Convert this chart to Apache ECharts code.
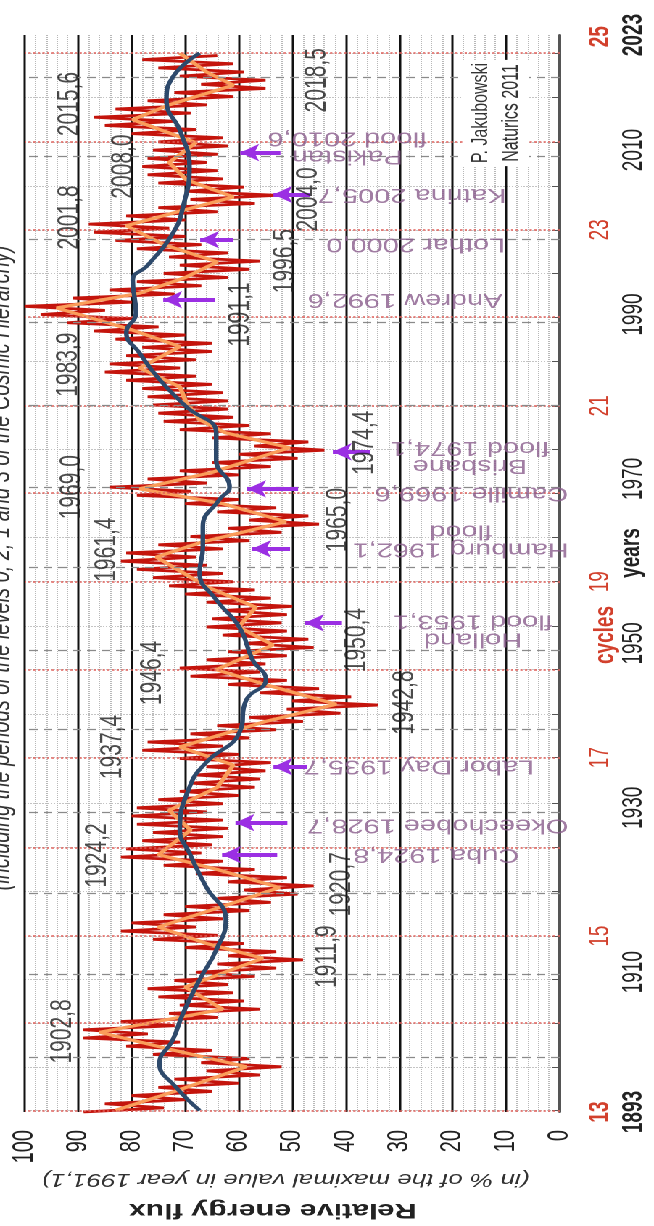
<!DOCTYPE html>
<html>
<head>
<meta charset="utf-8">
<title>Relative energy flux</title>
<script src="https://cdn.jsdelivr.net/npm/echarts@6.0.0/dist/echarts.min.js"></script>
<style>
  html, body { margin: 0; padding: 0; background: #fff; overflow: hidden; }
  /* the picture is stretched sideways, so the chart is drawn narrow and widened */
  #main { width: 451px; height: 1226px; transform: scaleX(1.45); transform-origin: 0 0; }
</style>
</head>
<body>
<div id="main"></div>
<script>
/**———————————————— data read off the picture ————————————————**/
// red curve: left (high) spike per year, right (low) spike half a year later
var redStartYear = 1893;
var redHigh = [89,85,80,75,72,66,67,76,81,89, 89,82,73,71,75,77,72,68,64,62,
               70,76,82,80,74,70,64,59,62,68, 74,82,81,78,76,79,80,79,75,71,
               69,68,66,71,78,77,69,64,58,51, 50,56,62,69,71,66,62,59,63,66,
               65,63,66,70,73,76,79,82,81,75, 69,62,58,64,70,79,84,77,71,65,
               60,57,65,71,74,75,76,77,78,81, 85,84,81,78,83,87,92,97,100,91,
               84,79,74,71,73,79,83,87,88,81, 75,69,70,75,77,78,77,76,75,80,
               85,87,83,77,72,67,71,75,78];
var redLow  = [74,70,65,60,56,52,58,65,71,77, 72,64,56,59,61,62,57,53,48,53,
               59,64,68,63,58,54,49,46,51,57, 63,67,65,63,62,63,66,63,60,57,
               56,55,54,60,63,58,53,48,41,34, 39,45,51,56,55,51,46,47,51,52,
               51,50,54,57,61,63,66,68,63,58, 52,45,47,53,60,69,66,60,54,49,
               44,47,54,58,61,62,62,63,65,68, 71,68,65,65,70,75,80,85,80,72,
               67,62,58,56,62,67,70,73,70,64, 57,53,59,63,64,66,64,62,63,68,
               72,69,66,61,55,55,59,61,64];

// orange curve (turning points)
var orangeYears = [1893.2,1895.5,1898.5,1900.5,1902.7,1905.5,1908.2,1911.7,1913.5,1915.5,
                   1918,1920.3,1922.5,1924.3,1927.3,1929.7,1932.5,1935.2,1937.4,1940.5,
                   1942.6,1944.8,1946.8,1949.8,1952,1954.4,1956.9,1960.5,1962.3,1964.8,
                   1967,1968.8,1970.8,1973.8,1975.6,1977.2,1979.3,1981.2,1983.5,1986.1,
                   1988.1,1990.8,1992.6,1994.5,1996.4,1998.5,2000.8,2003.1,2004.3,2006.4,
                   2008.5,2010.9,2013.7,2015.5,2017.9,2019.5,2021.8];
var orangeValues = [83,72,58.6,72,86,63,70,55.5,66,75,
                    63,52.4,64,75,69,73,64,61,71,55,
                    41.8,54,64.2,53.6,60,56.8,66,75.4,67,51.2,
                    63,78.5,65,50.5,62.4,67.3,69.8,71,78.5,71,
                    79.8,94,78.5,70,64,74,81,68,61,69.8,
                    73,68,79.8,73,61,66,71];

// blue long-term curve
var blueYears = [1893.2,1896,1898.9,1901.8,1905,1909.1,1912.7,1916.4,1920.4,1924.5,
                 1927.3,1932.5,1935.5,1939.1,1943.1,1945.6,1948,1952,1955.3,1958.6,
                 1961.7,1964.2,1967.5,1969,1972.3,1975.6,1978.8,1982.1,1985.3,1987.8,
                 1990.2,1994.2,1996,1999.9,2003.1,2008,2012.1,2016.1,2018.9,2021.8];
var blueValues = [67.3,71.7,74.8,72.3,70.4,67.3,64.2,62.4,66.1,69.2,
                  71,69.2,66.1,59.9,58.6,54.9,57.4,59.9,64.2,67.3,
                  66.7,66.7,63.6,61.7,64.2,64.2,69.8,74.8,78.5,81,
                  79.2,79.8,77,72.3,70.4,69.2,70.8,73.5,72.3,67.3];

// year axis
var yearLabelAt = [1893, 1910, 1930, 1950, 1970, 1990, 2010, 2024];
var yearLabelText = ['1893', '1910', '1930', '1950', '1970', '1990', '2010', '2023'];
var cycleStarts = [1893.2,1903.8,1914.4,1925.2,1936.1,1946.8,1957.5,1968.3,1978.9,1989.7,2000.3,2011.0,2021.8];
var cycleMids = [1898.5,1909.1,1919.8,1930.6,1941.4,1952.1,1962.9,1973.6,1984.3,1995.0,2005.6,2016.4];
var cycleLabelAt = [1893, 1914.4, 1936.1, 1957.5, 1978.9, 2000.3, 2023.8];
var cycleNames = ['13', '15', '17', '19', '21', '23', '25'];
var dashedYears = [1899.6,1909.7,1919.6,1929.4,1939.5,1949.2,1959.2,1969.0,1979.0,1989.0,1999.1,2009.3,2018.9];

// maxima / minima annotations: [value where the text sits, year, text]
var extremaLabels = [
  [91.6, 2015.6, '2015,6'], [81.5, 2008.0, '2008,0'], [91.6, 2001.8, '2001,8'],
  [91.8, 1983.9, '1983,9'], [91.2, 1969.0, '1969,0'], [84.7, 1961.4, '1961,4'],
  [76.1, 1946.4, '1946,4'], [83.6, 1937.4, '1937,4'], [86.4, 1924.2, '1924,2'],
  [92.9, 1902.8, '1902,8'],
  [45.3, 2018.5, '2018,5'], [47.0, 2004.0, '2004,0'], [51.3, 1996.5, '1996,5'],
  [59.7, 1990.0, '1991,1'], [36.4, 1974.4, '1974,4'], [41.4, 1965.0, '1965,0'],
  [37.9, 1950.4, '1950,4'], [28.9, 1942.8, '1942,8'], [40.7, 1920.7, '1920,7'],
  [43.5, 1911.9, '1911,9']
];

// storms and floods
var eventNames = ['Pakistan\nflood 2010,6', 'Katrina 2005,7', 'Lothar 2000,0', 'Andrew 1992,6',
                  'Brisbane\nflood 1974,1', 'Camille 1969,6', 'Hamburg 1962,1\nflood',
                  'Holland\nflood 1953,1', 'Labor Day 1935,7', 'Okeechobee 1928,7', 'Cuba 1924,8'];
var eventArrowYear = [2009.7, 2004.6, 1999.1, 1991.8, 1973.3, 1968.8, 1961.5, 1952.5, 1935.0, 1928.2, 1924.3];
var eventArrowHead = [59.7, 53.5, 67.2, 74.1, 42.4, 58.4, 57.5, 47.6, 53.5, 60.6, 63.1];
var eventArrowTail = [52.2, 46.6, 61.0, 64.4, 35.4, 48.9, 50.4, 40.7, 47.2, 50.9, 52.8];
var eventTextYear = [2010.4, 2004.6, 1998.6, 1991.8, 1972.7, 1968.3, 1962.6, 1951.6, 1935.1, 1927.9, 1924.3];
var eventTextValue = [39.7, 27.6, 26.9, 28.9, 16.8, 16.5, 18.5, 16.2, 26.3, 22.8, 23.1];

/**———————————————— build ————————————————**/
var FONT = 'Liberation Sans, Arial, sans-serif';

var redData = [];
for (var i = 0; i < redHigh.length; i++) {
  redData.push([redHigh[i], redStartYear + i]);
  redData.push([redLow[i], redStartYear + i + 0.5]);
}
var orangeData = orangeYears.map(function (y, i) { return [orangeValues[i], y]; });
var blueData = blueYears.map(function (y, i) { return [blueValues[i], y]; });

var arrowData = eventArrowYear.map(function (y, i) {
  return { coords: [[eventArrowTail[i], y], [eventArrowHead[i], y]] };
});
var eventData = eventNames.map(function (n, i) {
  return [eventTextValue[i], eventTextYear[i], n];
});

var markLines = cycleStarts.map(function (y) {
  return { yAxis: y, lineStyle: { color: '#e0605a', type: 'dotted', width: 1.6 } };
}).concat(dashedYears.map(function (y) {
  return { yAxis: y, lineStyle: { color: '#8a8a8a', type: [6, 4], width: 1.2 } };
}));

var dom = document.getElementById('main');
var myChart = echarts.init(dom, null, { renderer: 'canvas', devicePixelRatio: 2 });

var option = {
  animation: false,
  backgroundColor: '#fff',
  textStyle: { fontFamily: FONT },
  grid: { left: 17, right: 65, top: 35, bottom: 114 },
  xAxis: {
    type: 'value', min: 0, max: 100, interval: 10, inverse: true, position: 'bottom',
    axisLine: { show: false },
    axisTick: { show: false },
    axisLabel: { rotate: 90, margin: 18, fontSize: 20, color: '#222', fontFamily: FONT },
    splitLine: { show: true, lineStyle: { color: '#111', width: 1.5 } },
    minorTick: { show: false, splitNumber: 5 },
    minorSplitLine: { show: true, lineStyle: { color: '#b8b8b8', type: 'dotted', width: 1 } }
  },
  yAxis: [{
    type: 'value', min: 1893, max: 2024, interval: 1, position: 'right',
    axisLine: { show: true, lineStyle: { color: '#555', width: 2 } },
    axisTick: { show: true, inside: true, length: 5, customValues: cycleStarts.concat(cycleMids),
                lineStyle: { color: '#555', width: 1 } },
    axisLabel: {
      customValues: yearLabelAt, rotate: 90, margin: 42, fontSize: 19, color: '#222', fontFamily: FONT,
      formatter: function (v) {
        var k = yearLabelAt.indexOf(v);
        var s = k >= 0 ? yearLabelText[k] : String(v);
        return (k === 0 || k === yearLabelAt.length - 1) ? '{b|' + s + '}' : s;
      },
      rich: { b: { fontWeight: 'bold', fontSize: 19, color: '#222', fontFamily: FONT } }
    },
    splitLine: { show: true, lineStyle: { color: '#c4c4c4', type: 'dotted', width: 1 } }
  }, {
    type: 'value', min: 1893, max: 2024, interval: 1, position: 'right',
    axisLine: { show: false }, axisTick: { show: false }, splitLine: { show: false },
    axisLabel: {
      customValues: cycleLabelAt, rotate: 90, margin: 19, fontSize: 19, color: '#d2402c', fontFamily: FONT,
      formatter: function (v) {
        var k = cycleLabelAt.indexOf(v);
        var s = k >= 0 ? cycleNames[k] : '';
        return (k === 0 || k === cycleLabelAt.length - 1) ? '{b|' + s + '}' : s;
      },
      rich: { b: { fontWeight: 'bold', fontSize: 19, color: '#d2402c', fontFamily: FONT } }
    }
  }],
  graphic: [
    { type: 'text', x: 11, y: 568, rotation: Math.PI / 2, silent: true,
      style: { text: '(including the periods of the levels 0, 2, 1 and 3 of the Cosmic Hierarchy)',
               fontSize: 20, fontStyle: 'italic', fontFamily: FONT, fill: '#333',
               align: 'center', verticalAlign: 'bottom' } },
    { type: 'text', x: 188, y: 1210, rotation: Math.PI, silent: true,
      style: { text: 'Relative energy flux', fontSize: 21, fontWeight: 'bold', fontFamily: FONT,
               fill: '#222', align: 'center', verticalAlign: 'middle' } },
    { type: 'text', x: 197, y: 1179, rotation: Math.PI, silent: true,
      style: { text: '(in % of the maximal value in year 1991,1)', fontSize: 18, fontStyle: 'italic',
               fontFamily: FONT, fill: '#333', align: 'center', verticalAlign: 'middle' } },
    { type: 'text', x: 342, y: 113, rotation: Math.PI / 2, silent: true, z: 100,
      style: { text: 'P. Jakubowski\nNaturics 2011', fontSize: 16, lineHeight: 21, fontFamily: FONT,
               fill: '#333', align: 'center', verticalAlign: 'middle',
               backgroundColor: '#fff', padding: [2, 3] } },
    { type: 'text', x: 436, y: 553, rotation: Math.PI / 2, silent: true,
      style: { text: 'years', fontSize: 19, fontWeight: 'bold', fontFamily: FONT, fill: '#222',
               align: 'center', verticalAlign: 'middle' } },
    { type: 'text', x: 418, y: 635, rotation: Math.PI / 2, silent: true,
      style: { text: 'cycles', fontSize: 19, fontWeight: 'bold', fontFamily: FONT, fill: '#d2402c',
               align: 'center', verticalAlign: 'middle' } }
  ],
  series: [
    {
      name: 'grid', type: 'line', data: [], z: 1, silent: true,
      markLine: { silent: true, symbol: 'none', label: { show: false }, data: markLines }
    },
    {
      name: 'flux', type: 'line', data: redData, z: 3, showSymbol: false, symbol: 'none',
      lineStyle: { color: '#c4140c', width: 2.8 }
    },
    {
      name: 'smoothed', type: 'line', data: orangeData, z: 4, symbol: 'none',
      lineStyle: { color: '#fa9d5a', width: 3.2 }
    },
    {
      name: 'trend', type: 'line', data: blueData, z: 5, symbol: 'none', smooth: 0.5,
      lineStyle: { color: '#2e4a6c', width: 3.2 }
    },
    {
      name: 'arrows', type: 'lines', coordinateSystem: 'cartesian2d', z: 6, silent: true,
      symbol: ['none', 'arrow'], symbolSize: 13,
      lineStyle: { color: '#9b2fe3', width: 4, opacity: 1, curveness: 0 },
      data: arrowData
    },
    {
      name: 'extrema', type: 'scatter', data: extremaLabels, z: 7, silent: true,
      symbol: 'circle', symbolSize: 1, itemStyle: { color: 'rgba(0,0,0,0)' },
      label: { show: true, position: 'inside', rotate: 90, fontSize: 21, color: '#1e1e1e',
               fontFamily: FONT, formatter: function (p) { return p.data[2]; } }
    },
    {
      name: 'events', type: 'scatter', data: eventData, z: 7, silent: true,
      symbol: 'circle', symbolSize: 1, itemStyle: { color: 'rgba(0,0,0,0)' },
      label: { show: true, position: 'inside', rotate: 180, fontSize: 20, lineHeight: 18,
               color: '#8a5c8c', fontFamily: FONT, align: 'center', verticalAlign: 'middle',
               formatter: function (p) { return p.data[2]; } }
    }
  ]
};

if (option && typeof option === 'object') {
  myChart.setOption(option, true);
}
</script>
</body>
</html>
